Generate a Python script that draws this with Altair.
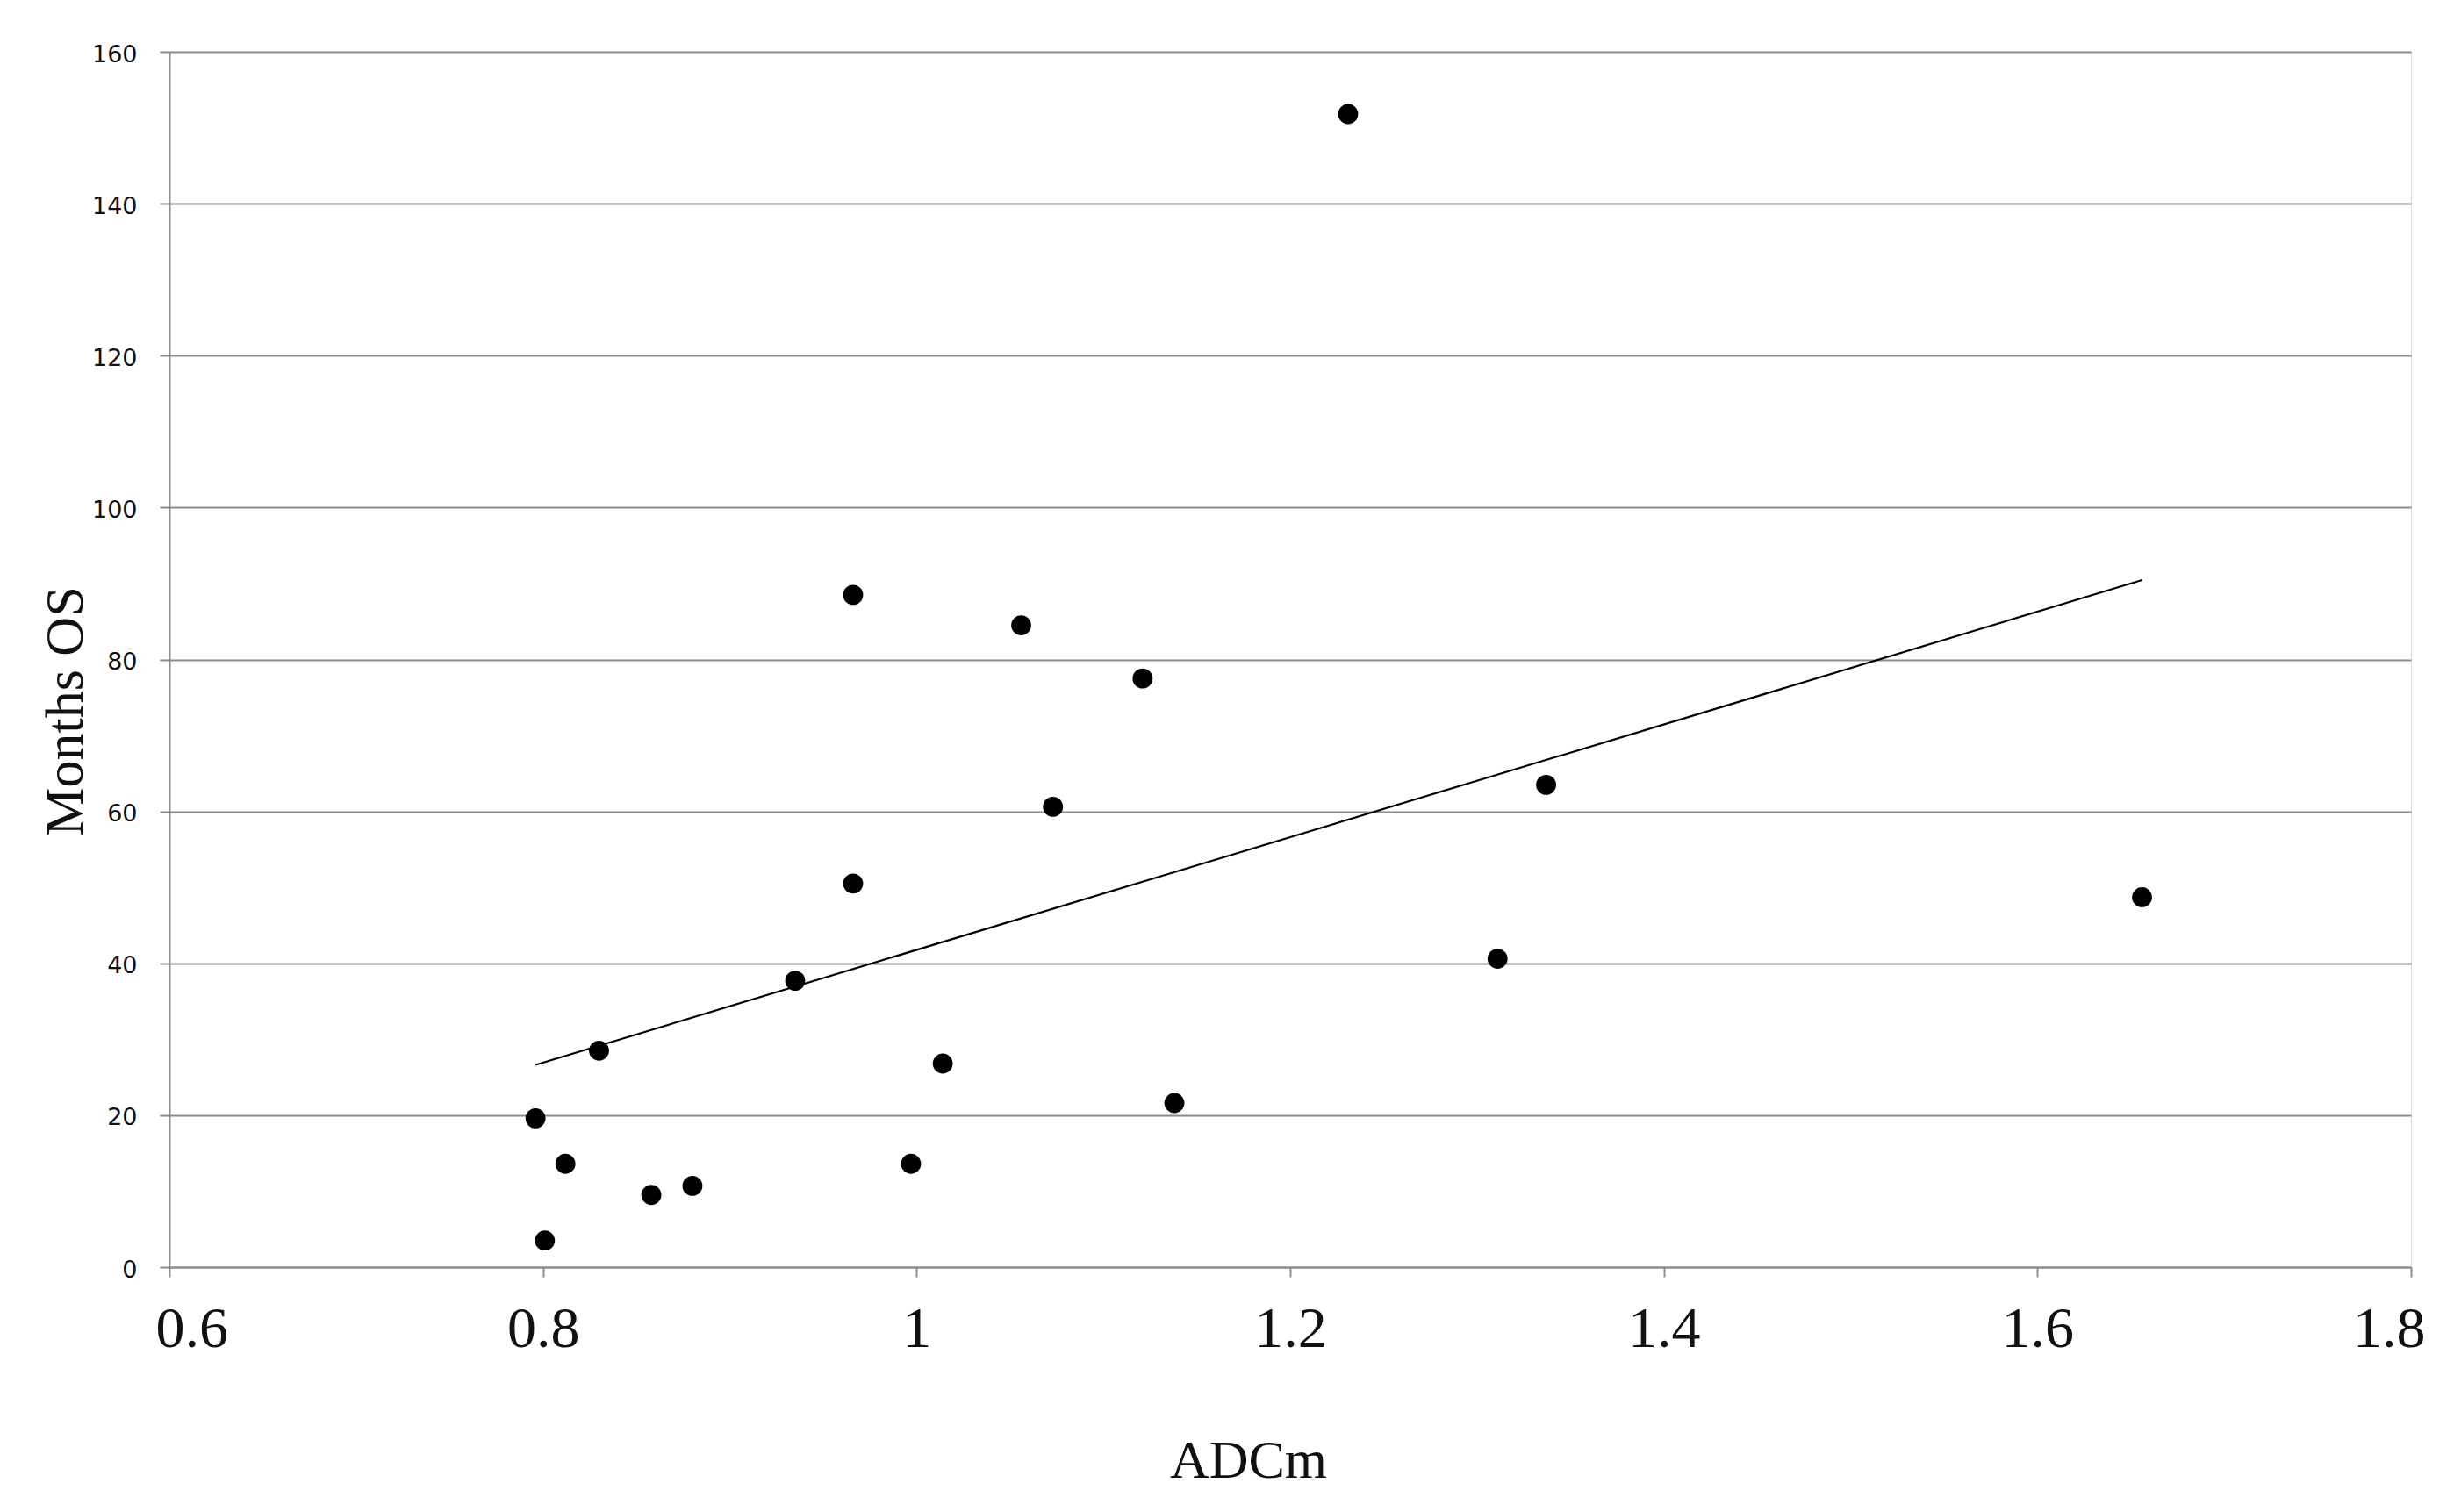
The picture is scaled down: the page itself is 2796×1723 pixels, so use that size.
import altair as alt
import pandas as pd

adcm = [1.231, 0.966, 1.056, 1.121, 1.073, 1.337, 0.966, 1.656, 1.311, 0.935,
        0.830, 1.014, 1.138, 0.796, 0.812, 0.997, 0.858, 0.880, 0.801]
months_os = [151.8, 88.5, 84.5, 77.5, 60.6, 63.5, 50.5, 48.7, 40.6, 37.7,
             28.5, 26.8, 21.6, 19.6, 13.6, 13.6, 9.5, 10.7, 3.5]
x_ticks = [0.6, 0.8, 1.0, 1.2, 1.4, 1.6, 1.8]
y_ticks = [0, 20, 40, 60, 80, 100, 120, 140, 160]

df = pd.DataFrame({"ADCm": adcm, "Months OS": months_os})

W, H = 2554, 1385
grid_col = "#8c8c8c"

x_enc = alt.X(
    "ADCm:Q",
    scale=alt.Scale(domain=[0.6, 1.8], nice=False, zero=False),
    axis=alt.Axis(
        values=x_ticks, format="~g", grid=False,
        domainColor=grid_col, domainWidth=2, tickColor=grid_col, tickWidth=2, tickSize=11,
        labelFont="Liberation Serif", labelFontSize=66, labelColor="#111",
        labelPadding=27, labelFlush=True, labelFlushOffset=16,
        title="ADCm", titleFont="Liberation Serif", titleFontSize=62,
        titleFontWeight="normal", titleColor="#111",
        titleX=1229, titleY=239, titleBaseline="alphabetic", titleAlign="center",
    ),
)
y_enc = alt.Y(
    "Months OS:Q",
    scale=alt.Scale(domain=[0, 160], nice=False),
    axis=alt.Axis(
        values=y_ticks, grid=True, gridColor=grid_col, gridWidth=2,
        domainColor=grid_col, domainWidth=2, tickColor=grid_col, tickWidth=2, tickSize=11,
        labelFont="DejaVu Sans", labelFontSize=27, labelColor="#111", labelPadding=26,
        labelBaseline="top", labelOffset=-10,
        title="Months OS", titleFont="Liberation Serif", titleFontSize=62,
        titleFontWeight="normal", titleColor="#111",
        titleX=-100, titleY=751, titleAngle=-90, titleBaseline="alphabetic", titleAlign="center",
    ),
)

points = alt.Chart(df).mark_circle(size=520, color="black", opacity=1).encode(x=x_enc, y=y_enc)

trend = alt.Chart(df).transform_regression("ADCm", "Months OS").mark_line(
    color="black", strokeWidth=2.2
).encode(x="ADCm:Q", y="Months OS:Q")

chart = (trend + points).properties(
    width=W, height=H,
    autosize=alt.AutoSizeParams(type="none"),
    padding={"left": 185, "top": 51, "right": 40, "bottom": 260},
).configure_view(stroke=None).configure(background="white")

chart.save("out.html", embed_options={"renderer": "svg", "actions": False})
